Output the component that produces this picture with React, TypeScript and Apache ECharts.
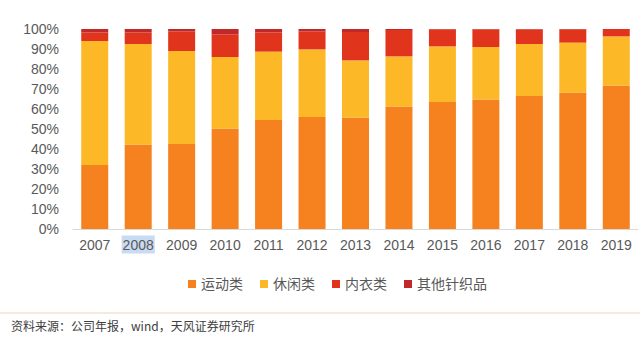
import React, { useEffect, useRef } from "react";
import * as echarts from "echarts";

const years = ["2007", "2008", "2009", "2010", "2011", "2012", "2013", "2014", "2015", "2016", "2017", "2018", "2019"];
const sport = [32.0, 42.3, 42.5, 50.2, 54.5, 56.0, 55.7, 61.3, 63.5, 64.8, 66.5, 68.3, 71.8];
const leisure = [62.0, 50.2, 46.5, 35.8, 34.2, 33.8, 28.6, 25.0, 27.8, 26.2, 26.0, 24.9, 24.5];
const underwear = [4.3, 5.8, 9.7, 11.2, 9.6, 8.9, 14.2, 13.2, 8.4, 8.8, 7.3, 6.5, 3.7];
const other = [1.7, 1.7, 1.3, 2.8, 1.7, 1.3, 1.5, 0.5, 0.3, 0.2, 0.2, 0.3, 0.0];
const seriesNames = ["运动类", "休闲类", "内衣类", "其他针织品"];
const colors = ["#F5821F", "#FCB827", "#E0341C", "#C0282A"];
const yTicks = [0, 10, 20, 30, 40, 50, 60, 70, 80, 90, 100];

const FONT = "'Liberation Sans', 'Noto Sans CJK SC', sans-serif";

export default function App() {
  const ref = useRef<HTMLDivElement>(null);
  useEffect(() => {
    if (!ref.current) return;
    const chart = echarts.init(ref.current, undefined, { renderer: "svg" });
    const data = [sport, leisure, underwear, other];
    chart.setOption({
      animation: false,
      backgroundColor: "#ffffff",
      textStyle: { fontFamily: FONT },
      grid: { left: 73, right: 2, top: 29, bottom: 109, containLabel: false },
      legend: {
        left: 183,
        top: 272,
        icon: "rect",
        itemWidth: 8,
        itemHeight: 8,
        itemGap: 17,
        textStyle: { fontSize: 14, color: "#595959", fontFamily: FONT },
        data: seriesNames,
      },
      xAxis: {
        type: "category",
        data: years,
        axisLine: { show: true, lineStyle: { color: "#d9d9d9", width: 1 } },
        axisTick: { show: false },
        axisLabel: {
          interval: 0,
          color: "#595959",
          fontSize: 14,
          margin: 7,
          formatter: (v: string) => (v === "2008" ? "{hl|" + v + "}" : "{n|" + v + "}"),
          rich: {
            hl: {
              backgroundColor: "#c9dbf2",
              color: "#595959",
              fontSize: 14,
              lineHeight: 17,
              padding: [2, 1, 2, 1],
            },
            n: {
              color: "#595959",
              fontSize: 14,
              lineHeight: 17,
              padding: [2, 1, 2, 1],
            },
          },
        },
      },
      yAxis: {
        type: "value",
        min: yTicks[0],
        max: yTicks[yTicks.length - 1],
        interval: 10,
        splitLine: { show: false },
        axisLine: { show: false },
        axisTick: { show: false },
        axisLabel: {
          color: "#595959",
          fontSize: 14,
          margin: 14,
          formatter: (v: number) => v + "%",
        },
      },
      series: seriesNames.map((name, i) => ({
        name,
        type: "bar",
        stack: "total",
        barWidth: 27,
        itemStyle: { color: colors[i] },
        data: data[i],
      })),
      graphic: [
        {
          type: "line",
          shape: { x1: 0, y1: 313, x2: 640, y2: 313 },
          style: { stroke: "#f0d2b4", lineWidth: 1 },
        },
        {
          type: "text",
          left: 11,
          top: 319,
          style: {
            text: "资料来源：公司年报，wind，天风证券研究所",
            fontSize: 12,
            fill: "#404040",
            fontFamily: "'Noto Sans CJK SC', sans-serif",
          },
        },
      ],
    });
    return () => chart.dispose();
  }, []);
  return <div ref={ref} style={{ width: 640, height: 338, position: "absolute", left: 0, top: 0 }} />;
}
